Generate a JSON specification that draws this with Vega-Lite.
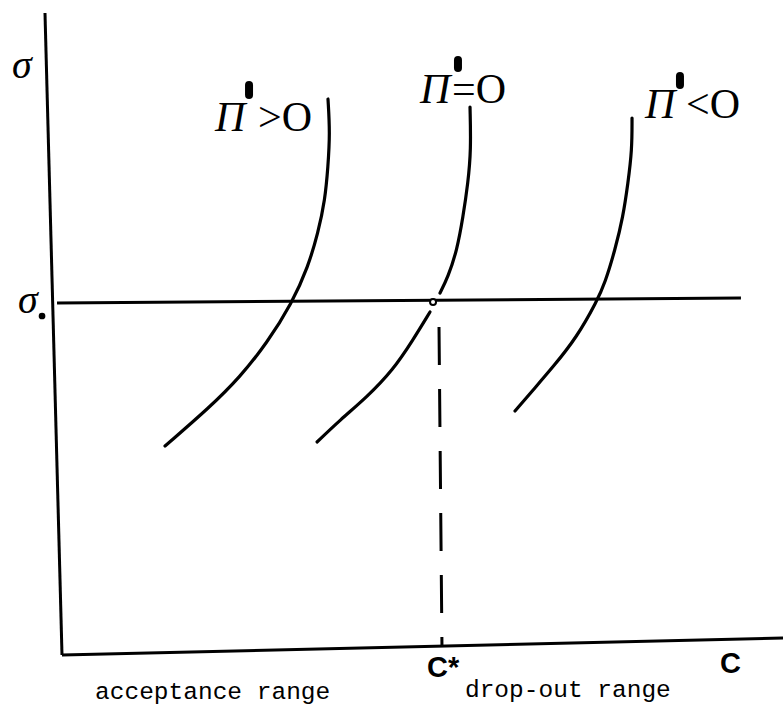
{
  "$schema": "https://vega.github.io/schema/vega-lite/v6.json",
  "width": 783,
  "height": 705,
  "autosize": "none",
  "padding": 0,
  "background": "white",
  "config": {"view": {"stroke": null}},
  "datasets": {
    "curves": [
      {"curve": "A", "i": 0, "c": 36.89, "s": 84.89},
      {"curve": "A", "i": 1, "c": 37.17, "s": 79.69},
      {"curve": "A", "i": 2, "c": 36.89, "s": 74.5},
      {"curve": "A", "i": 3, "c": 36.48, "s": 69.47},
      {"curve": "A", "i": 4, "c": 35.51, "s": 64.43},
      {"curve": "A", "i": 5, "c": 34.12, "s": 59.24},
      {"curve": "A", "i": 6, "c": 31.9, "s": 53.74},
      {"curve": "A", "i": 7, "c": 28.43, "s": 47.63},
      {"curve": "A", "i": 8, "c": 24.69, "s": 42.44},
      {"curve": "A", "i": 9, "c": 20.53, "s": 37.86},
      {"curve": "A", "i": 10, "c": 14.29, "s": 31.91},
      {"curve": "B1", "i": 0, "c": 56.59, "s": 83.66},
      {"curve": "B1", "i": 1, "c": 56.73, "s": 77.1},
      {"curve": "B1", "i": 2, "c": 56.31, "s": 72.06},
      {"curve": "B1", "i": 3, "c": 55.62, "s": 66.87},
      {"curve": "B1", "i": 4, "c": 54.79, "s": 61.83},
      {"curve": "B1", "i": 5, "c": 53.54, "s": 57.71},
      {"curve": "B1", "i": 6, "c": 52.43, "s": 55.27},
      {"curve": "B2", "i": 0, "c": 51.04, "s": 52.37},
      {"curve": "B2", "i": 1, "c": 48.68, "s": 48.09},
      {"curve": "B2", "i": 2, "c": 45.91, "s": 43.51},
      {"curve": "B2", "i": 3, "c": 42.3, "s": 39.39},
      {"curve": "B2", "i": 4, "c": 38.56, "s": 35.88},
      {"curve": "B2", "i": 5, "c": 35.37, "s": 32.52},
      {"curve": "C", "i": 0, "c": 79.06, "s": 81.98},
      {"curve": "C", "i": 1, "c": 79.06, "s": 77.1},
      {"curve": "C", "i": 2, "c": 78.5, "s": 72.06},
      {"curve": "C", "i": 3, "c": 77.81, "s": 66.87},
      {"curve": "C", "i": 4, "c": 76.7, "s": 61.83},
      {"curve": "C", "i": 5, "c": 75.31, "s": 56.79},
      {"curve": "C", "i": 6, "c": 74.2, "s": 54.05},
      {"curve": "C", "i": 7, "c": 71.43, "s": 48.55},
      {"curve": "C", "i": 8, "c": 68.1, "s": 43.97},
      {"curve": "C", "i": 9, "c": 65.33, "s": 40.46},
      {"curve": "C", "i": 10, "c": 62.83, "s": 37.25}
    ],
    "lines": [
      {"name": "sigma axis", "c": -2.36, "s": 98.02, "c2": 0, "s2": 0},
      {"name": "C axis", "c": 0, "s": 0, "c2": 100, "s2": 2.6},
      {"name": "sigma0", "c": -0.69, "s": 53.74, "c2": 94.17, "s2": 54.5}
    ],
    "dashed": [
      {"name": "C*", "c": 52.29, "s": 50.08, "c2": 52.7, "s2": 1.37}
    ],
    "blobs": [
      {"c": 25.94, "s": 87.02, "s2": 85.5},
      {"c": 54.92, "s": 90.84, "s2": 89.62},
      {"c": 85.71, "s": 88.4, "s2": 87.02}
    ],
    "point": [
      {"c": 51.46, "s": 53.89}
    ],
    "sigma": [
      {"t": "σ", "c": -6.93, "s": 88.09},
      {"t": "σ", "c": -6.1, "s": 52.21}
    ],
    "italic": [
      {"t": "Π", "c": 21.22, "s": 80.0},
      {"t": "Π", "c": 49.65, "s": 84.27},
      {"t": "Π", "c": 80.86, "s": 81.98}
    ],
    "upright": [
      {"t": ">O", "c": 27.18, "s": 80.0},
      {"t": "=O", "c": 54.09, "s": 84.27},
      {"t": "<O", "c": 86.55, "s": 81.98}
    ],
    "bold": [
      {"t": "C*", "c": 50.62, "s": -3.36},
      {"t": "C", "c": 91.26, "s": -2.75}
    ],
    "mono": [
      {"t": "acceptance range", "c": 4.58, "s": -6.72},
      {"t": "drop-out range", "c": 55.89, "s": -6.41}
    ],
    "dot": [
      {"c": -2.77, "s": 51.76}
    ]
  },
  "encoding": {
    "x": {"field": "c", "type": "quantitative", "scale": {"domain": [-8.6, 100], "nice": false, "zero": false}, "axis": null},
    "y": {"field": "s", "type": "quantitative", "scale": {"domain": [-7.63, 100], "nice": false, "zero": false}, "axis": null}
  },
  "layer": [
    {
      "data": {"name": "lines"},
      "mark": {"type": "rule", "color": "black", "strokeWidth": 3},
      "encoding": {"x2": {"field": "c2"}, "y2": {"field": "s2"}}
    },
    {
      "data": {"name": "dashed"},
      "mark": {"type": "rule", "color": "black", "strokeWidth": 3, "strokeDash": [38, 24]},
      "encoding": {"x2": {"field": "c2"}, "y2": {"field": "s2"}}
    },
    {
      "data": {"name": "curves"},
      "mark": {"type": "line", "color": "black", "strokeWidth": 3.2, "interpolate": "basis", "strokeCap": "round"},
      "encoding": {"detail": {"field": "curve"}, "order": {"field": "i", "type": "quantitative"}}
    },
    {
      "data": {"name": "blobs"},
      "mark": {"type": "rule", "color": "black", "strokeWidth": 8, "strokeCap": "round"},
      "encoding": {"y2": {"field": "s2"}}
    },
    {
      "data": {"name": "point"},
      "mark": {"type": "point", "shape": "circle", "size": 36, "filled": false, "fill": "white", "fillOpacity": 1, "stroke": "black", "strokeWidth": 2, "opacity": 1}
    },
    {
      "data": {"name": "dot"},
      "mark": {"type": "point", "shape": "circle", "size": 45, "filled": true, "color": "black", "opacity": 1}
    },
    {
      "data": {"name": "sigma"},
      "mark": {"type": "text", "font": "Liberation Serif", "fontStyle": "italic", "fontSize": 40, "align": "left", "baseline": "alphabetic", "color": "black"},
      "encoding": {"text": {"field": "t"}}
    },
    {
      "data": {"name": "italic"},
      "mark": {"type": "text", "font": "Liberation Serif", "fontStyle": "italic", "fontSize": 42, "align": "left", "baseline": "alphabetic", "color": "black"},
      "encoding": {"text": {"field": "t"}}
    },
    {
      "data": {"name": "upright"},
      "mark": {"type": "text", "font": "Liberation Serif", "fontSize": 42, "align": "left", "baseline": "alphabetic", "color": "black"},
      "encoding": {"text": {"field": "t"}}
    },
    {
      "data": {"name": "bold"},
      "mark": {"type": "text", "font": "Liberation Sans", "fontWeight": "bold", "fontSize": 29, "align": "left", "baseline": "alphabetic", "color": "black"},
      "encoding": {"text": {"field": "t"}}
    },
    {
      "data": {"name": "mono"},
      "mark": {"type": "text", "font": "Liberation Mono", "fontSize": 24.5, "align": "left", "baseline": "alphabetic", "color": "black"},
      "encoding": {"text": {"field": "t"}}
    }
  ]
}
